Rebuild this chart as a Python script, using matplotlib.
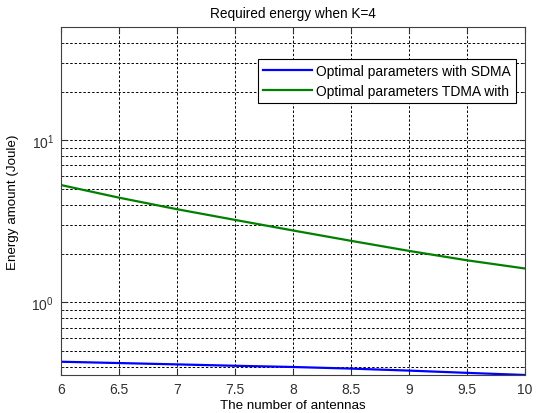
import matplotlib
matplotlib.use("Agg")
import matplotlib.pyplot as plt
from matplotlib.ticker import LogLocator, NullFormatter, FixedLocator

plt.rcParams['font.family'] = ['Liberation Sans', 'DejaVu Sans']

antennas = [6, 6.5, 7, 7.5, 8, 8.5, 9, 9.5, 10]
sdma = [0.431, 0.423, 0.415, 0.407, 0.400, 0.391, 0.380, 0.368, 0.357]
tdma = [5.30, 4.43, 3.76, 3.23, 2.78, 2.40, 2.08, 1.82, 1.62]
labels = ['Optimal parameters with SDMA', 'Optimal parameters TDMA with']
xticks = [6, 6.5, 7, 7.5, 8, 8.5, 9, 9.5, 10]
xticklabels = ['6', '6.5', '7', '7.5', '8', '8.5', '9', '9.5', '10']

fig = plt.figure(figsize=(5.38, 4.14), dpi=100)
ax = fig.add_axes([61/538, 1-376/414, (525-61)/538, (376-28)/414])

ax.plot(antennas, sdma, color=(0, 0, 1), lw=1.6, label=labels[0])
ax.plot(antennas, tdma, color=(0, 0.5, 0), lw=1.6, label=labels[1])

ax.set_yscale('log')
ax.set_xlim(6, 10)
ax.set_ylim(min(sdma), 50)
ax.set_xticks(xticks)
ax.set_xticklabels(xticklabels)
ax.yaxis.set_major_locator(FixedLocator([1, 10]))
ax.yaxis.set_minor_locator(LogLocator(base=10, subs=range(2, 10)))
ax.yaxis.set_minor_formatter(NullFormatter())

ax.grid(True, which='major', axis='both', color='black', lw=0.7, ls=(0, (2.5, 2)))
ax.grid(True, which='minor', axis='y', color='black', lw=0.7, ls=(0, (2.5, 2)))

ax.tick_params(which='both', direction='in', top=True, right=True, labelsize=10, colors='#303030')
ax.tick_params(which='major', length=4, pad=5)
ax.tick_params(which='minor', length=2)
for s in ax.spines.values():
    s.set_color('#404040')
    s.set_linewidth(0.8)

ax.set_title('Required energy when K=4', fontsize=9.8, pad=7)
ax.set_xlabel('The number of antennas', fontsize=9.6, labelpad=2)
ax.set_ylabel('Energy amount (Joule)', fontsize=9.6, labelpad=9)

leg = ax.legend(loc='upper right', bbox_to_anchor=(0.9806, 0.908), fontsize=10, fancybox=False,
                framealpha=1, edgecolor='black', handlelength=3.5, borderpad=0.35,
                labelspacing=0.45, handletextpad=0.35, borderaxespad=0)
leg.get_frame().set_linewidth(0.8)

fig.savefig('out.png', dpi=100)
